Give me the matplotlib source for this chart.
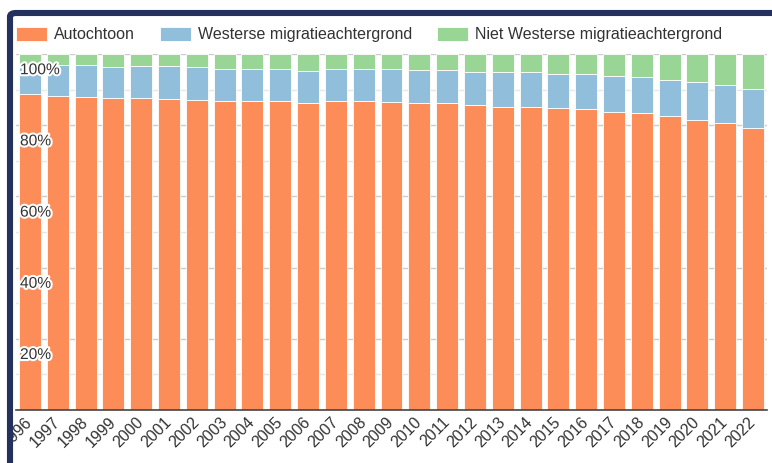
import matplotlib
matplotlib.use("Agg")
from matplotlib import pyplot as plt
from matplotlib import patches
import matplotlib.patheffects as pe
import numpy as np

plt.rcParams['font.family'] = ['Liberation Sans', 'DejaVu Sans']

# data (percentages)
years = [str(y) for y in range(1996, 2023)]
autochtoon = [88.7, 88.1, 88.0, 87.7, 87.7, 87.4, 87.1, 86.8, 86.8, 86.8,
              86.1, 86.8, 86.8, 86.4, 86.3, 86.1, 85.7, 85.0, 85.0, 84.7,
              84.6, 83.8, 83.4, 82.6, 81.5, 80.5, 79.1]
westers = [8.2, 8.8, 8.9, 8.6, 8.9, 9.2, 9.2, 8.9, 8.9, 8.9,
           9.2, 8.9, 8.9, 9.3, 9.2, 9.3, 9.2, 9.9, 9.9, 9.6,
           9.7, 10.0, 10.0, 10.1, 10.6, 10.8, 11.0]
niet_westers = [100 - a - w for a, w in zip(autochtoon, westers)]

labels = ["Autochtoon", "Westerse migratieachtergrond", "Niet Westerse migratieachtergrond"]
colors = ["#fc8d59", "#91bfdb", "#99d594"]

W, H = 772, 463
fig = plt.figure(figsize=(W / 100, H / 100), dpi=100)
fig.patch.set_facecolor("white")

# axes in pixel coordinates: left 16, right 767, top 54, bottom 410
ax = fig.add_axes([16 / W, (H - 410) / H, (767 - 16) / W, (410 - 54) / H])

x = np.arange(len(years))
a = np.array(autochtoon)
w = np.array(westers)
n = np.array(niet_westers)
bw = 0.79
ax.bar(x, a, bw, color=colors[0], edgecolor="white", linewidth=0.6, zorder=2, label=labels[0])
ax.bar(x, w, bw, bottom=a, color=colors[1], edgecolor="white", linewidth=0.6, zorder=2, label=labels[1])
ax.bar(x, n, bw, bottom=a + w, color=colors[2], edgecolor="white", linewidth=0.6, zorder=2, label=labels[2])

ax.set_xlim(-0.5, len(years) - 0.5)
ax.set_ylim(0, 100)

# gridlines
for g in range(10, 101, 10):
    ax.axhline(g, color="#cccccc" if g % 20 == 0 else "#e6e6e6", linewidth=1, zorder=1)

for s in ["top", "right", "left"]:
    ax.spines[s].set_visible(False)
ax.spines["bottom"].set_color("#444444")
ax.spines["bottom"].set_linewidth(1.2)
ax.spines["bottom"].set_zorder(3)

ax.set_yticks([])
ax.set_xticks(x)
ax.set_xticklabels(years, rotation=45, ha="right", va="center", rotation_mode="anchor",
                   fontsize=11.5, color="#333333")
ax.tick_params(axis="x", length=0, pad=7)

# y labels inside the plot
for v in [20, 40, 60, 80, 100]:
    t = ax.text(4 / 751, v - 2.3, f"{v}%", transform=ax.get_yaxis_transform(),
                ha="left", va="top", fontsize=11.2, color="#333333", zorder=5)
    t.set_path_effects([pe.withStroke(linewidth=3, foreground="white")])

# legend
fig.legend(loc="upper left", bbox_to_anchor=(16 / W, 1 - 27 / H), ncol=3, frameon=False,
           fontsize=11.5, handlelength=1.94, handleheight=0.95, handletextpad=0.44,
           columnspacing=1.56, borderpad=0, borderaxespad=0, labelcolor="#333333")

# frame of the page: white strip left, navy border left and top
fig.add_artist(patches.Rectangle((0, 0), 7 / W, 1, transform=fig.transFigure,
                                 facecolor="white", edgecolor="none", zorder=20))
fig.add_artist(patches.FancyBboxPatch((10 / W, -0.2), 2, 1.2 + (H - 13) / H - 1,
                                      boxstyle="round,pad=0,rounding_size=0.008",
                                      transform=fig.transFigure, facecolor="none",
                                      edgecolor="#22315e", linewidth=4.4, zorder=21))

fig.savefig("out.png", dpi=100)
